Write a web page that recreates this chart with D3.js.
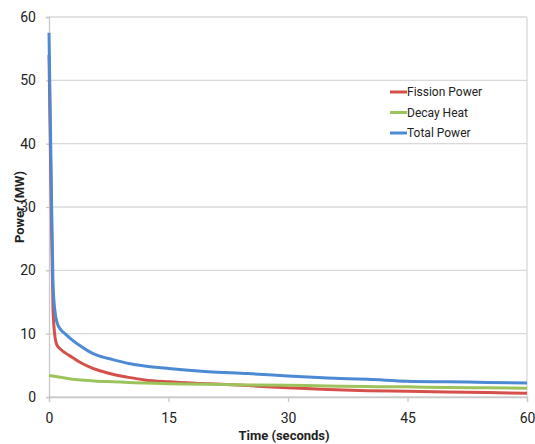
<!DOCTYPE html>
<html>
<head>
<meta charset="utf-8">
<script src="https://cdn.jsdelivr.net/npm/d3@7"></script>
<style>
  body { margin: 0; background: #fff; }
  text { font-family: Roboto, "Open Sans", sans-serif; fill: #222; }
</style>
</head>
<body>
<main></main>
<script>
// Power after shutdown - line chart

// time (s)
const times = [0, 0.25, 0.5, 0.75, 1, 1.5, 2, 3, 4, 5, 6, 8, 10, 12, 15, 20, 25, 30, 35, 40, 45, 50, 55, 60];
// power (MW)
const fission = [54, 33, 14, 9.5, 8.2, 7.5, 7.0, 6.2, 5.4, 4.8, 4.3, 3.6, 3.1, 2.7, 2.4, 2.1, 1.8, 1.45, 1.2, 1.0, 0.9, 0.8, 0.7, 0.6];
const decay = [3.4, 3.35, 3.3, 3.25, 3.2, 3.1, 3.0, 2.8, 2.7, 2.6, 2.5, 2.4, 2.3, 2.2, 2.1, 2.0, 1.9, 1.85, 1.75, 1.65, 1.6, 1.5, 1.45, 1.4];
const total = [57.5, 37, 18, 13.5, 11.8, 10.6, 10.0, 8.9, 8.0, 7.2, 6.6, 5.9, 5.3, 4.9, 4.5, 4.0, 3.7, 3.3, 3.0, 2.8, 2.5, 2.4, 2.3, 2.2];

const seriesNames = ["Fission Power", "Decay Heat", "Total Power"];
const seriesColors = ["#d6504b", "#9dc45c", "#4d8ad4"];
const xTicks = [0, 15, 30, 45, 60];
const yTicks = [0, 10, 20, 30, 40, 50, 60];

const w = 535, h = 444;
const margin = {top: 17, right: 8, bottom: 47, left: 49};

const svg = d3.select("main").append("svg")
  .attr("width", w)
  .attr("height", h);

const x = d3.scaleLinear().domain([0, 60]).range([margin.left, w - margin.right]);
const y = d3.scaleLinear().domain([0, 60]).range([h - margin.bottom, margin.top]);

//gridlines
svg.append("g")
  .selectAll("line")
  .data(yTicks)
  .enter()
  .append("line")
  .attr("x1", x(0))
  .attr("x2", x(60))
  .attr("y1", d => y(d))
  .attr("y2", d => y(d))
  .attr("stroke", "#d9d9d9")
  .attr("stroke-width", 1.3);

//right border
svg.append("line")
  .attr("x1", x(60)).attr("x2", x(60))
  .attr("y1", y(60)).attr("y2", y(0))
  .attr("stroke", "#d9d9d9")
  .attr("stroke-width", 1.3);

//axes
const xAxis = svg.append("g")
  .attr("transform", "translate(0," + y(0) + ")")
  .call(d3.axisBottom(x).tickValues(xTicks).tickSize(5).tickPadding(11));

const yAxis = svg.append("g")
  .attr("transform", "translate(" + x(0) + ",0)")
  .call(d3.axisLeft(y).tickValues(yTicks).tickSize(3).tickPadding(10));

[xAxis, yAxis].forEach(a => {
  a.select(".domain").attr("stroke", "#c8c8c8").attr("stroke-width", 1.3);
  a.selectAll(".tick line").attr("stroke", "#c8c8c8").attr("stroke-width", 1.3);
  a.selectAll("text").style("font-size", "14px").attr("fill", "#222");
});

//lines
const series = [fission, decay, total];
const line = d3.line()
  .x((d, i) => x(times[i]))
  .y(d => y(d))
  .curve(d3.curveMonotoneX);

svg.append("g")
  .selectAll("path")
  .data(series)
  .enter()
  .append("path")
  .attr("d", line)
  .attr("fill", "none")
  .attr("stroke", (d, i) => seriesColors[i])
  .attr("stroke-width", 3)
  .attr("stroke-linejoin", "round");

//legend
const legend = svg.append("g")
  .attr("transform", "translate(390,92)");

const items = legend.selectAll("g")
  .data(seriesNames)
  .enter()
  .append("g")
  .attr("transform", (d, i) => "translate(0," + i * 20.5 + ")");

items.append("line")
  .attr("x1", 0).attr("x2", 17)
  .attr("stroke", (d, i) => seriesColors[i])
  .attr("stroke-width", 3);

items.append("text")
  .attr("x", 17)
  .attr("dy", "0.35em")
  .style("font-size", "12px")
  .text(d => d);

//axis titles
svg.append("text")
  .attr("x", (x(0) + x(60)) / 2 - 4)
  .attr("y", 440)
  .attr("text-anchor", "middle")
  .style("font-size", "13px")
  .style("font-weight", "bold")
  .text("Time (seconds)");

svg.append("text")
  .attr("transform", "translate(24,207) rotate(-90)")
  .attr("text-anchor", "middle")
  .style("font-size", "13px")
  .style("font-weight", "bold")
  .text("Power (MW)");
</script>
</body>
</html>
